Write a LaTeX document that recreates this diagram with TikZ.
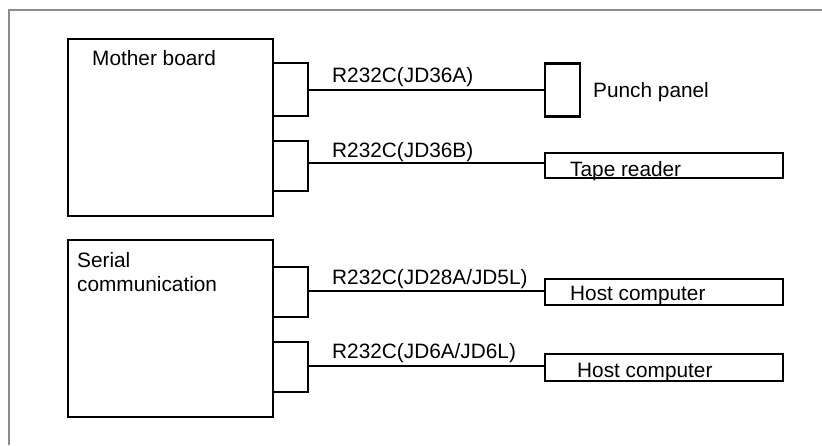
\documentclass[tikz,border=0pt]{standalone}
\usepackage{fontspec}
\setmainfont{Liberation Sans}
\usepackage{tikz}

\tikzset{
  unit/.style={draw, line width=2.6pt, minimum width=205pt, minimum height=177pt, inner sep=0pt},
  device/.style={draw, line width=2.6pt, inner sep=0pt},
  port/.style={line width=2.4pt},
  cable/.style={line width=2.2pt},
  txt/.style={anchor=base west, inner sep=0pt, font=\fontsize{20.8}{24}\selectfont},
  frame/.style={draw=black!45, line width=2.2pt},
}

\begin{document}
\begin{tikzpicture}[x=1pt,y=-1pt]
  \useasboundingbox (0,0) rectangle (822,445);
  \draw[frame] (9,445) -- (9,10) -- (822,10);

  % units on the left
  \node[unit] (mb) at (170.5,127.5) {};
  \node[unit] (sc) at (170.5,328.5) {};
  \node[txt] (mbtext) at (92,65) {Mother board};
  \node[txt] (sctext1) at (77,267) {Serial};
  \node[txt] (sctext2) at (77,291) {communication};

  % devices on the right
  \node[device, minimum width=35pt, minimum height=53pt] (punch) at (562.5,90) {};
  \node[device, minimum width=238pt, minimum height=25pt] (tape) at (664,165.5) {};
  \node[device, minimum width=238pt, minimum height=26pt] (hosta) at (664,292) {};
  \node[device, minimum width=238pt, minimum height=27pt] (hostb) at (664,367.5) {};
  \node[txt] (punchtext) at (593,97) {Punch panel};
  \node[txt] (tapetext) at (570,176) {Tape reader};
  \node[txt] (hostatext) at (570,300) {Host computer};
  \node[txt] (hostbtext) at (577,377) {Host computer};

  % ports
  \coordinate (pa) at (308,90);
  \coordinate (pb) at (308,163);
  \coordinate (pc) at (308,291);
  \coordinate (pd) at (308,366);
  \draw[port] (273,63) -| (pa) |- (273,116);
  \draw[port] (273,141) -| (pb) |- (273,191);
  \draw[port] (273,267) -| (pc) |- (273,317);
  \draw[port] (273,342) -| (pd) |- (273,392);

  % cables
  \draw[cable] (pa) -- (punch.west);
  \draw[cable] (pb) -- (pb -| tape.west);
  \draw[cable] (pc) -- (pc -| hosta.west);
  \draw[cable] (pd) -- (pd -| hostb.west);
  \node[txt] (laba) at (332,82) {R232C(JD36A)};
  \node[txt] (labb) at (332,157) {R232C(JD36B)};
  \node[txt] (labc) at (332,284) {R232C(JD28A/JD5L)};
  \node[txt] (labd) at (332,358) {R232C(JD6A/JD6L)};
\end{tikzpicture}
\end{document}
